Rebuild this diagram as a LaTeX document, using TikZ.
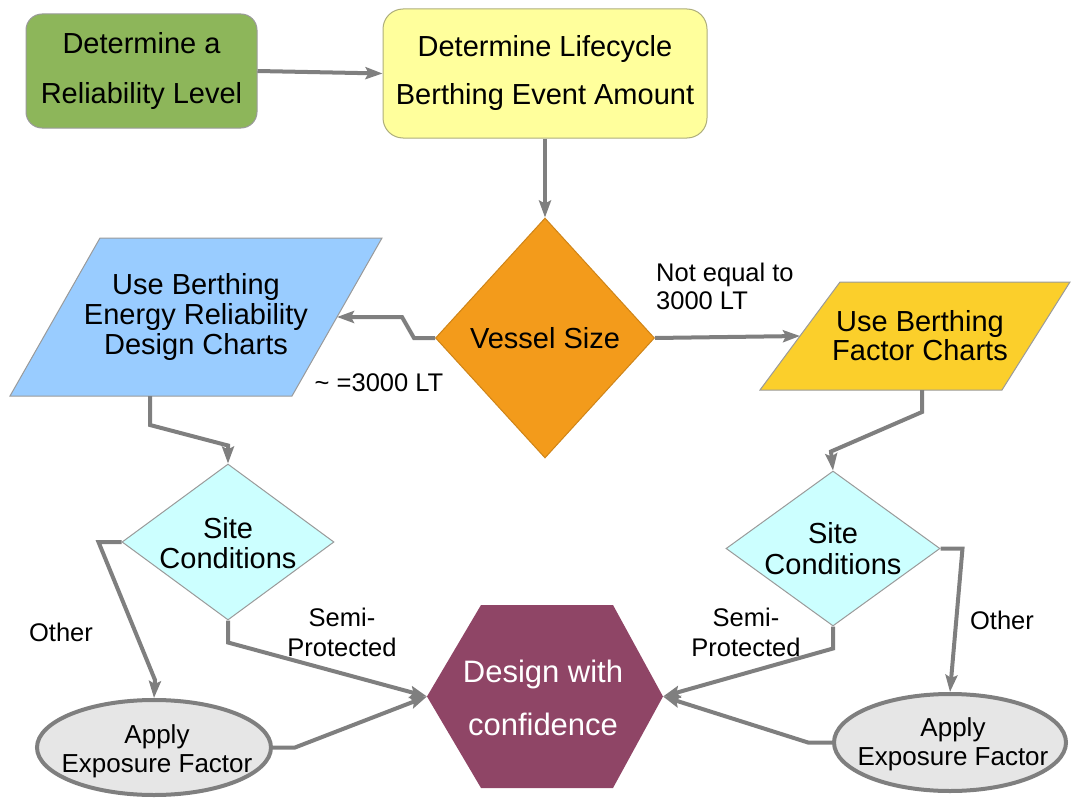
\documentclass[tikz,border=0pt]{standalone}
\usepackage{fontspec}
\setmainfont{Liberation Sans}
\usetikzlibrary{shapes.geometric,arrows.meta,calc}

\definecolor{linegray}{HTML}{7F7F7F}
\definecolor{edgegray}{HTML}{9A9A9A}
\definecolor{leafgreen}{HTML}{8DB65A}
\definecolor{paleyellow}{HTML}{FFFF9C}
\definecolor{vesselorange}{HTML}{F39B1B}
\definecolor{skyblue}{HTML}{99CCFF}
\definecolor{goldfill}{HTML}{FBCF2B}
\definecolor{palecyan}{HTML}{CCFFFF}
\definecolor{plum}{HTML}{8F4566}
\definecolor{ellgray}{HTML}{E6E6E6}

\begin{document}
\begin{tikzpicture}[x=1pt,y=-1pt,
  conn/.style={draw=linegray, line width=4pt, line join=miter,
    -{Stealth[length=17pt,width=12pt,inset=3pt]}},
  roundbox/.style={rectangle, rounded corners=16pt, draw=edgegray, line width=1pt, inner sep=0pt, align=center},
  decision/.style={diamond, draw=edgegray, line width=1pt, inner sep=0pt},
  helper/.style={rectangle, inner sep=0pt, outer sep=0pt},
  exposure/.style={ellipse, draw=linegray, line width=4pt, fill=ellgray, inner sep=0pt},
  txt/.style={align=center, inner sep=0pt, font=\fontsize{29}{30}\selectfont},
  lbl/.style={inner sep=0pt, font=\fontsize{25.5}{30}\selectfont},
]
\useasboundingbox (0,0) rectangle (1072,800);

% top row
\node[roundbox, fill=leafgreen, minimum width=231pt, minimum height=114pt,
      font=\fontsize{29}{50}\selectfont] (relevel) at (141.5,71) {Determine a\\Reliability Level};
\node[roundbox, fill=paleyellow, draw=edgegray!80!yellow, minimum width=324pt, minimum height=129pt,
      rounded corners=20pt, font=\fontsize{29}{48}\selectfont] (lifecycle) at (545,73.5)
      {Determine Lifecycle\\Berthing Event Amount};

% vessel size decision
\node[decision, fill=vesselorange, draw=vesselorange!85!black, minimum width=219pt, minimum height=240pt] (vessel) at (545,338) {};
\node[txt] (vesseltxt) at (vessel.center) {Vessel Size};

% chart parallelograms
\node[helper, minimum width=282pt, minimum height=158pt] (energy) at (196,317) {};
\filldraw[fill=skyblue, draw=edgegray, line width=1pt]
  ($(energy.north west)+(45,0)$) -- ($(energy.north east)+(45,0)$) --
  ($(energy.south east)+(-45,0)$) -- ($(energy.south west)+(-45,0)$) -- cycle;
\node[txt] (energytxt) at (energy.center) {Use Berthing\\Energy Reliability\\Design Charts};

\node[helper, minimum width=234pt, minimum height=108pt] (factor) at (917,336) {};
\filldraw[fill=goldfill, draw=edgegray, line width=1pt]
  ($(factor.north west)+(40,0)$) -- ($(factor.north east)+(36,0)$) --
  ($(factor.south east)+(-32,0)$) -- ($(factor.south west)+(-40,0)$) -- cycle;
\node[txt, font=\fontsize{29}{29}\selectfont] (factortxt) at (920,336) {Use Berthing\\Factor Charts};

% site condition decisions
\node[decision, fill=palecyan, minimum width=212pt, minimum height=156pt] (siteL) at (228,542) {};
\node[txt] (siteLtxt) at (228,543) {Site\\Conditions};
\node[decision, fill=palecyan, minimum width=214pt, minimum height=155pt] (siteR) at (833,548.5) {};
\node[txt, font=\fontsize{29}{31}\selectfont] (siteRtxt) at (833,549) {Site\\Conditions};

% exposure factor ellipses
\node[exposure, minimum width=234pt, minimum height=95pt] (appL) at (154,747.5) {};
\node[txt, font=\fontsize{26}{29}\selectfont] (appLtxt) at (157,751) {Apply\\Exposure Factor};
\node[exposure, minimum width=232pt, minimum height=97pt] (appR) at (950,742.5) {};
\node[txt, font=\fontsize{26}{29}\selectfont] (appRtxt) at (953,744) {Apply\\Exposure Factor};

% final hexagon
\node[helper, minimum width=236pt, minimum height=183pt] (dwc) at (545,696.5) {};
\fill[plum] (dwc.west) -- ($(dwc.north west)+(54,0)$) -- ($(dwc.north east)+(-50,0)$) --
  (dwc.east) -- ($(dwc.south east)+(-50,0)$) -- ($(dwc.south west)+(54,0)$) -- cycle;
\node[txt, text=white, font=\fontsize{31}{53}\selectfont] (dwctxt) at (543,698) {Design with\\confidence};

% connectors
\draw[conn] (relevel.east) -- (lifecycle.west);
\draw[conn] (lifecycle.south) -- (vessel.north);
\draw[conn] (vessel.west) -- ++(-21,0) -- ++(-12,-21) -- (energy.east);
\draw[conn] (vessel.east) -- (factor.west);
\draw[conn] ($(energy.south)+(-46,0)$) -- ++(0,29) -- ($(siteL.north)+(0,-18)$) -- (siteL.north);
\draw[conn] ($(factor.south)+(5,0)$) -- ++(0,22) -- ($(siteR.north)+(-2,-19)$) -- (siteR.north);
\draw[conn] (siteL.west) -- ++(-23,0) -- ($(appL.north)+(1,-18)$) -- (appL.north);
\draw[conn] (siteL.south) -- ++(0,22) -- (dwc.west);
\draw[conn] (appL.east) -- ++(22,0) -- (dwc.west);
\draw[conn] (siteR.south) -- ++(0,22) -- (dwc.east);
\draw[conn] (appR.west) -- ++(-24,0) -- (dwc.east);
\draw[conn] (siteR.east) -- ++(22,0) -- (appR.north);

% branch labels
\node[lbl, align=left, anchor=west, font=\fontsize{25.5}{28}\selectfont] (neq) at (656,286) {Not equal to\\3000 LT};
\node[lbl] (eq) at (379,383) {\textasciitilde\ =3000 LT};
\node[lbl] (otherL) at (61,632) {Other};
\node[lbl] (otherR) at (1002,620) {Other};
\node[lbl, align=center] (semiL) at (342,632) {Semi-\\Protected};
\node[lbl, align=center] (semiR) at (746,632) {Semi-\\Protected};
\end{tikzpicture}
\end{document}
